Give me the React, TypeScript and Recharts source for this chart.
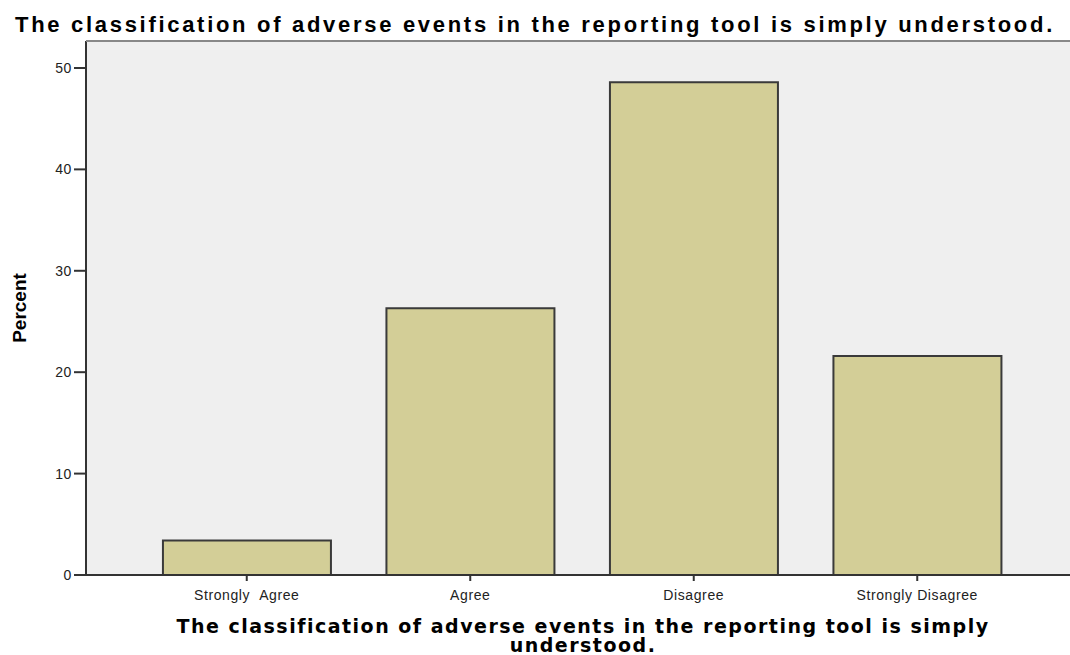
import { BarChart, Bar, XAxis, YAxis, CartesianGrid } from 'recharts';

const categories = ['Strongly\u00a0\u00a0Agree', 'Agree', 'Disagree', 'Strongly Disagree'];
const percents = [3.4, 26.3, 48.6, 21.6];
const yTicks = [0, 10, 20, 30, 40, 50];

const data = categories.map((name, i) => ({ name, percent: percents[i] }));

const W = 1070;
const H = 655;
const tickFont = { fill: '#222', fontSize: 14, letterSpacing: 0.6, fontFamily: '"Liberation Sans", Arial, sans-serif' };

export default function App() {
  return (
    <div style={{ position: 'absolute', left: 0, top: 0, width: W, height: H, background: '#fff', fontFamily: '"Liberation Sans", Arial, sans-serif' }}>
      <div
        style={{
          position: 'absolute',
          left: 0,
          top: 12,
          width: W,
          textAlign: 'center',
          fontWeight: 'bold',
          fontSize: 22,
          letterSpacing: 2.7,
          lineHeight: '26px',
          color: '#000',
          whiteSpace: 'nowrap',
        }}
      >
        The classification of adverse events in the reporting tool is simply understood.
      </div>
      <BarChart
        width={W}
        height={H}
        data={data}
        margin={{ top: 41, right: 0, bottom: 50, left: 0 }}
        barCategoryGap="12.5%"
        style={{ position: 'absolute', left: 0, top: 0 }}
      >
        <CartesianGrid fill="#efefef" stroke="none" horizontal={false} vertical={false} />
        <XAxis
          dataKey="name"
          height={30}
          padding={{ left: 49, right: 41 }}
          stroke="#333"
          strokeWidth={2}
          tickSize={6}
          tickMargin={9}
          tick={tickFont}
          tickLine={{ stroke: '#333', strokeWidth: 2 }}
          interval={0}
        />
        <YAxis
          width={86}
          domain={[0, 52.66]}
          ticks={yTicks}
          stroke="#333"
          strokeWidth={2}
          tickSize={12}
          tickMargin={2}
          tick={tickFont}
          tickLine={{ stroke: '#333', strokeWidth: 2 }}
          allowDataOverflow
        />
        <Bar dataKey="percent" fill="#d3ce97" stroke="#3a3a3a" strokeWidth={2} isAnimationActive={false} />
      </BarChart>
      <div style={{ position: 'absolute', left: 86, top: 40, width: W - 86, height: 2, background: '#888' }} />
      <div
        style={{
          position: 'absolute',
          left: 20,
          top: 308,
          transform: 'translate(-50%, -50%) rotate(-90deg)',
          fontFamily: '"Liberation Sans Narrow", "Arial Narrow", "Liberation Sans", sans-serif',
          fontWeight: 'bold',
          fontSize: 19,
          whiteSpace: 'nowrap',
          color: '#000',
        }}
      >
        Percent
      </div>
      <div
        style={{
          position: 'absolute',
          left: 583 - 430,
          top: 617,
          width: 860,
          textAlign: 'center',
          fontFamily: '"DejaVu Sans", Verdana, sans-serif',
          fontWeight: 'bold',
          fontSize: 19,
          letterSpacing: 1.5,
          lineHeight: '19px',
          color: '#000',
        }}
      >
        The classification of adverse events in the reporting tool is simply understood.
      </div>
    </div>
  );
}
